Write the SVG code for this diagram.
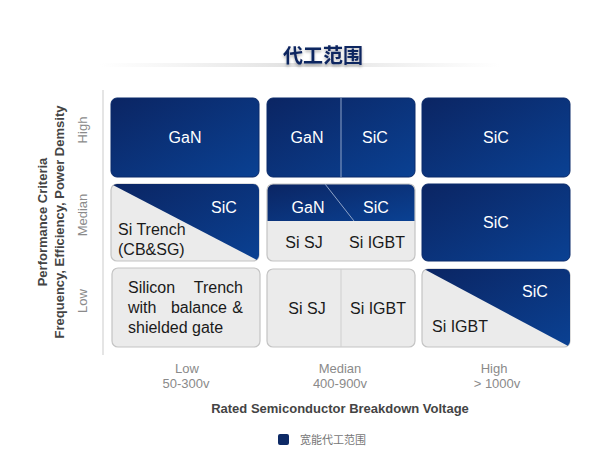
<svg xmlns="http://www.w3.org/2000/svg" width="600" height="456" viewBox="0 0 600 456">
<defs>
<linearGradient id="navy" x1="0" y1="0" x2="1" y2="1">
<stop offset="0" stop-color="#0b2563"/>
<stop offset="1" stop-color="#0a4193"/>
</linearGradient>
<linearGradient id="band" x1="0" y1="0" x2="1" y2="0">
<stop offset="0" stop-color="#e6e6e6" stop-opacity="0"/>
<stop offset="0.5" stop-color="#e0e0e0"/>
<stop offset="1" stop-color="#e6e6e6" stop-opacity="0"/>
</linearGradient>
<linearGradient id="axH" x1="0" y1="0" x2="1" y2="0">
<stop offset="0" stop-color="#d8d8d8"/>
<stop offset="1" stop-color="#eeeeee"/>
</linearGradient>
<clipPath id="c21"><rect x="111" y="184" width="148" height="77" rx="6"/></clipPath>
<clipPath id="c22"><rect x="267" y="184" width="148" height="77" rx="6"/></clipPath>
<clipPath id="c33"><rect x="422" y="269" width="148" height="78" rx="6"/></clipPath>
<filter id="sh" x="-10%" y="-10%" width="120%" height="140%">
<feDropShadow dx="0" dy="2" stdDeviation="1.5" flood-color="#000" flood-opacity="0.3"/>
</filter>
</defs>
<style>
.blue{fill:url(#navy);stroke:#0a2a6a;stroke-width:1}
.grey{fill:#ebebeb;stroke:#c4c4c4;stroke-width:1.2}
.wt{font-family:"Liberation Sans",Arial,sans-serif;font-size:16px;fill:#ffffff;text-anchor:middle}
.dt{font-family:"Liberation Sans",Arial,sans-serif;font-size:16px;fill:#1a1a1a}
.tick{font-family:"Liberation Sans",Arial,sans-serif;font-size:13px;fill:#8a8a8a;text-anchor:middle}
.axl{font-family:"Liberation Sans",Arial,sans-serif;font-size:13px;font-weight:bold;fill:#444;text-anchor:middle}
</style>
<rect width="600" height="456" fill="#ffffff"/>
<rect x="100" y="63" width="400" height="4" fill="url(#band)"/>
<text x="323" y="63" font-family="Noto Sans CJK SC,sans-serif" font-size="20" font-weight="bold" fill="#0d2560" text-anchor="middle" filter="url(#sh)">代工范围</text>

<g id="axes">
<line x1="103" y1="90" x2="103" y2="355" stroke="#dcdcdc" stroke-width="1.5"/>
<line x1="103" y1="355" x2="576" y2="355" stroke="url(#axH)" stroke-width="2"/>
</g>

<g id="cell-high-low">
<rect class="blue" x="111" y="98" width="148" height="79" rx="6"/>
<text class="wt" x="185" y="143">GaN</text>
</g>
<g id="cell-high-median">
<rect class="blue" x="267" y="98" width="148" height="79" rx="6"/>
<line x1="341" y1="98" x2="341" y2="177" stroke="#8ea3c8" stroke-width="1"/>
<text class="wt" x="307" y="143">GaN</text>
<text class="wt" x="375" y="143">SiC</text>
</g>
<g id="cell-high-high">
<rect class="blue" x="422" y="98" width="148" height="79" rx="6"/>
<text class="wt" x="496" y="143">SiC</text>
</g>

<g id="cell-median-low">
<rect class="grey" x="111" y="184" width="148" height="77" rx="6"/>
<polygon points="111,184 259,184 259,261" fill="url(#navy)" clip-path="url(#c21)"/>
<text class="wt" x="224" y="213">SiC</text>
<text class="dt" x="118" y="235">Si Trench</text>
<text class="dt" x="118" y="255">(CB&amp;SG)</text>
</g>
<g id="cell-median-median">
<g clip-path="url(#c22)">
<rect x="267" y="184" width="148" height="37" fill="url(#navy)"/>
<rect x="267" y="221" width="148" height="40" fill="#ebebeb"/>
</g>
<rect x="267" y="184" width="148" height="77" rx="6" fill="none" stroke="#c4c4c4" stroke-width="1.2"/>
<line x1="325" y1="184" x2="354" y2="221" stroke="#8ea3c8" stroke-width="1"/>
<text class="wt" x="308" y="213">GaN</text>
<text class="wt" x="376" y="213">SiC</text>
<text class="dt" x="304" y="248" text-anchor="middle">Si SJ</text>
<text class="dt" x="377" y="248" text-anchor="middle">Si IGBT</text>
</g>
<g id="cell-median-high">
<rect class="blue" x="422" y="184" width="148" height="77" rx="6"/>
<text class="wt" x="496" y="228">SiC</text>
</g>

<g id="cell-low-low">
<rect class="grey" x="112" y="268" width="148" height="79" rx="6"/>
<text class="dt" x="128" y="293">Silicon</text>
<text class="dt" x="243" y="293" text-anchor="end">Trench</text>
<text class="dt" x="128" y="313">with</text>
<text class="dt" x="199" y="313" text-anchor="middle">balance</text>
<text class="dt" x="243" y="313" text-anchor="end">&amp;</text>
<text class="dt" x="128" y="333">shielded gate</text>
</g>
<g id="cell-low-median">
<rect class="grey" x="267" y="269" width="148" height="78" rx="6"/>
<line x1="341" y1="269" x2="341" y2="347" stroke="#cfcfcf" stroke-width="1"/>
<text class="dt" x="307" y="314" text-anchor="middle">Si SJ</text>
<text class="dt" x="378" y="314" text-anchor="middle">Si IGBT</text>
</g>
<g id="cell-low-high">
<rect class="grey" x="422" y="269" width="148" height="78" rx="6"/>
<polygon points="424,269 570,269 570,347" fill="url(#navy)" clip-path="url(#c33)"/>
<text class="wt" x="535" y="297">SiC</text>
<text class="dt" x="432" y="332">Si IGBT</text>
</g>

<g id="y-axis-labels">
<text class="axl" transform="translate(47,222) rotate(-90)">Performance Criteria</text>
<text class="axl" transform="translate(64,222) rotate(-90)">Frequency, Efficiency, Power Demsity</text>
<text class="tick" transform="translate(87,130) rotate(-90)">High</text>
<text class="tick" transform="translate(87,215) rotate(-90)">Median</text>
<text class="tick" transform="translate(87,301) rotate(-90)">Low</text>
</g>

<g id="x-axis-labels">
<text class="tick" x="187" y="373">Low</text>
<text class="tick" x="186" y="388">50-300v</text>
<text class="tick" x="340" y="373">Median</text>
<text class="tick" x="340" y="388">400-900v</text>
<text class="tick" x="494" y="373">High</text>
<text class="tick" x="497" y="388">&gt; 1000v</text>
<text class="axl" x="340" y="413">Rated Semiconductor Breakdown Voltage</text>
</g>

<g id="legend">
<rect x="278" y="434" width="11" height="11" rx="2" fill="#0d2a66"/>
<text x="300" y="444" font-family="Noto Sans CJK SC,sans-serif" font-size="11" fill="#777">宽能代工范围</text>
</g>
</svg>
